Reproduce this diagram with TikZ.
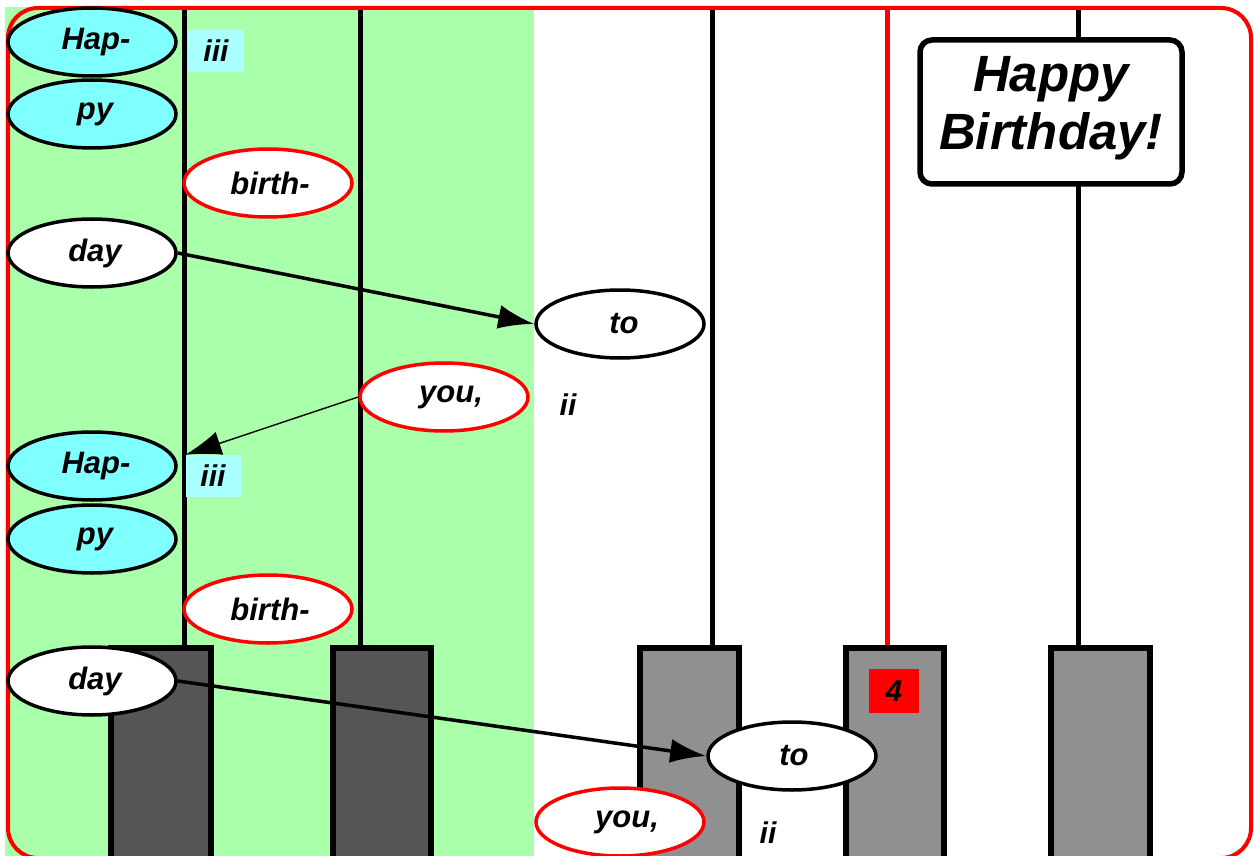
\documentclass[tikz,border=0pt]{standalone}
\usepackage{fontspec}
\setmainfont{Liberation Sans}
\usepackage{tikz}
\usetikzlibrary{shapes,arrows.meta,positioning}
\usepackage{xcolor}
\definecolor{songgreen}{RGB}{170,255,170}
\definecolor{hapcyan}{RGB}{128,255,255}
\definecolor{tagcyan}{RGB}{170,255,255}
\definecolor{darkkey}{RGB}{85,85,85}
\definecolor{greykey}{RGB}{144,144,144}

\begin{document}
\begin{tikzpicture}[x=1pt, y=-1pt,
    syllable/.style={draw, ellipse, line width=3.5pt, fill=white, minimum width=168pt, minimum height=68pt, inner sep=0pt, font=\fontsize{31}{35}\selectfont\bfseries\itshape},
    hapsyl/.style={syllable, fill=hapcyan},
    redsyl/.style={syllable, draw=red},
    tag/.style={inner sep=0pt, font=\fontsize{30}{34}\selectfont\bfseries\itshape},
    string/.style={line width=5pt},
    keybox/.style={draw=black, line width=6pt},
    bigarrow/.style={-{Latex[length=36pt,width=24pt]}, line width=3.5pt}]
    \useasboundingbox (0,0) rectangle (1254,856);
    \fill[white] (0,0) rectangle (1254,856);
    \fill[songgreen] (5,7) rectangle (534,856);

    % strings
    \draw[string] (184,7) -- (184,648);
    \draw[string] (360,7) -- (360,648);
    \draw[string] (712,7) -- (712,648);
    \draw[string, red] (887,7) -- (887,648);
    \draw[string] (1078,7) -- (1078,648);

    % keys
    \draw[keybox, fill=darkkey] (111,648) rectangle (211,870);
    \draw[keybox, fill=darkkey] (333,648) rectangle (431,870);
    \draw[keybox, fill=greykey] (640,648) rectangle (739,870);
    \draw[keybox, fill=greykey] (846,648) rectangle (944,870);
    \draw[keybox, fill=greykey] (1051,648) rectangle (1150,870);

    % frame
    \draw[red, line width=4pt, rounded corners=30pt] (8,8) rectangle (1251,858);

    \node[draw, rounded corners=12pt, line width=5.5pt, fill=white, minimum width=262pt, minimum height=144pt, align=center, font=\fontsize{51}{58}\selectfont\bfseries\itshape] (title) at (1051,112) {Happy\\Birthday!\vspace{8pt}};

    \node[tag, fill=tagcyan, minimum width=56pt, minimum height=42pt] (iiiA) at (216,51) {iii};
    \node[tag, fill=tagcyan, minimum width=55pt, minimum height=42pt] (iiiB) at (213,476) {iii};
    \node[tag] (iiA) at (568,405) {ii};
    \node[tag] (iiB) at (768,833) {ii};
    \node[tag, fill=red, minimum width=50pt, minimum height=44pt] (four) at (894,691) {4};

    \node[hapsyl] (hapA) at (92,42) {\hspace{8pt}Hap-};
    \node[hapsyl] (pyA) at (92,114) {\hspace{6pt}py};
    \node[redsyl] (birthA) at (268,183) {\hspace{4pt}birth-};
    \node[syllable] (dayA) at (92,253) {\hspace{6pt}day};
    \node[syllable] (toA) at (620,324) {\hspace{8pt}to};
    \node[redsyl] (youA) at (444,397) {\hspace{14pt}you,};
    \node[hapsyl] (hapB) at (92,466) {\hspace{8pt}Hap-};
    \node[hapsyl] (pyB) at (92,539) {\hspace{6pt}py};
    \node[redsyl] (birthB) at (268,609) {\hspace{4pt}birth-};
    \node[syllable] (dayB) at (92,681) {\hspace{6pt}day};
    \node[syllable] (toB) at (792,756) {\hspace{4pt}to};
    \node[redsyl] (youB) at (620,822) {\hspace{14pt}you,};

    \draw[bigarrow] (dayA.east) -- (toA.west);
    \draw[-{Latex[length=36pt,width=24pt]}, line width=1.4pt] (youA.west) -- (iiiB.north west);
    \draw[bigarrow] (dayB.east) -- (toB.west);
\end{tikzpicture}
\end{document}
